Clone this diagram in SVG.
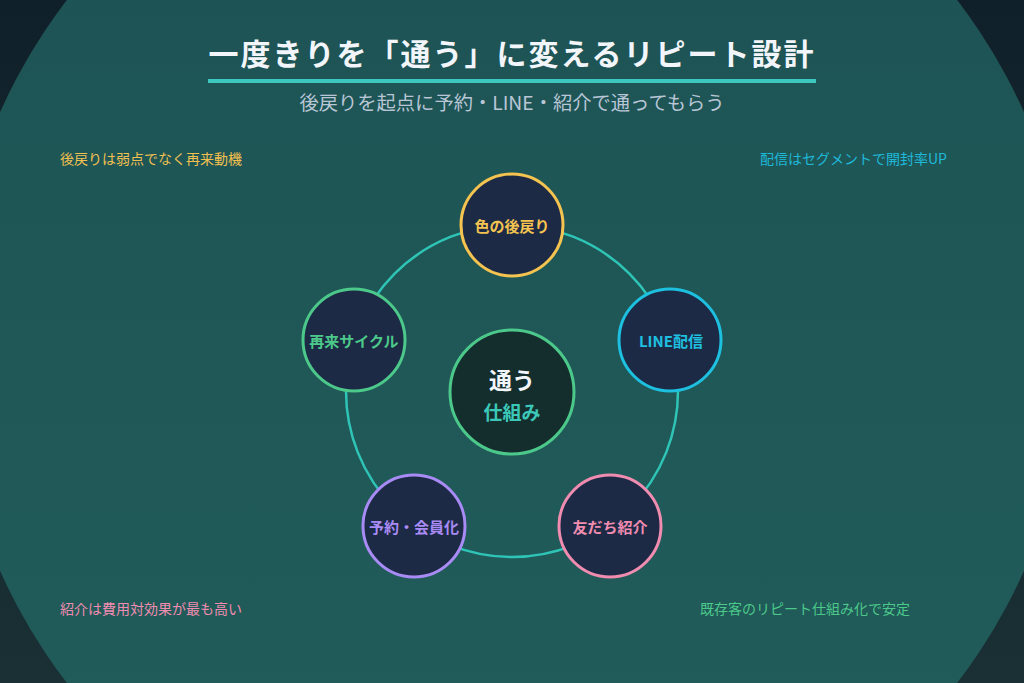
<svg xmlns="http://www.w3.org/2000/svg" width="1024" height="683" viewBox="0 0 1024 683">
<defs>
<linearGradient id="bg" x1="0" y1="0" x2="0" y2="1">
<stop offset="0" stop-color="#10202a"/>
<stop offset="1" stop-color="#1a3034"/>
</linearGradient>
<linearGradient id="disc" x1="0" y1="0" x2="0" y2="1">
<stop offset="0" stop-color="#1d5153"/>
<stop offset="1" stop-color="#215e5b"/>
</linearGradient>
<style>
text{font-family:"Noto Sans CJK JP","Noto Sans",sans-serif;text-anchor:middle;dominant-baseline:central}
.node{fill:#1c2a45;stroke-width:3}
.lbl{font-size:15px;font-weight:700}
.note{font-size:14px;text-anchor:start}
</style>
</defs>
<rect width="1024" height="683" fill="url(#bg)"/>
<circle cx="512" cy="341.5" r="561" fill="url(#disc)"/>
<g id="title">
<text x="512" y="52" font-size="30" font-weight="700" fill="#f2f5fa" letter-spacing="2">一度きりを「通う」に変えるリピート設計</text>
<rect x="208" y="79" width="608" height="4" fill="#3cc8bf"/>
<text x="512" y="102" font-size="19.3" fill="#b9c6d6">後戻りを起点に予約・LINE・紹介で通ってもらう</text>
</g>
<g id="connectors">
<circle cx="512" cy="391" r="166" fill="none" stroke="#2ec4b6" stroke-width="2.5"/>
</g>
<g id="node-top">
<circle class="node" cx="512" cy="225" r="51" stroke="#f5c350"/>
<text class="lbl" x="512" y="225" fill="#f5c350">色の後戻り</text>
</g>
<g id="node-line">
<circle class="node" cx="670" cy="340" r="51" stroke="#1ec0e0"/>
<text class="lbl" x="671" y="340" fill="#1ec0e0" font-size="16">LINE配信</text>
</g>
<g id="node-friend">
<circle class="node" cx="610" cy="526" r="51" stroke="#f08cb0"/>
<text class="lbl" x="610" y="526" fill="#f08cb0">友だち紹介</text>
</g>
<g id="node-reserve">
<circle class="node" cx="414" cy="526" r="51" stroke="#a98bf5"/>
<text class="lbl" x="414" y="526" fill="#a98bf5">予約・会員化</text>
</g>
<g id="node-cycle">
<circle class="node" cx="354" cy="340" r="51" stroke="#4cc98a"/>
<text class="lbl" x="354" y="340" fill="#4cc98a">再来サイクル</text>
</g>
<g id="node-center">
<circle cx="512" cy="392" r="62" fill="#142e2e" stroke="#4cc98a" stroke-width="3"/>
<text x="512" y="379" font-size="23" font-weight="700" fill="#f2f5fa">通う</text>
<text x="512" y="411" font-size="19" font-weight="700" fill="#3cc8b8">仕組み</text>
</g>
<g id="notes">
<text class="note" x="60" y="158" fill="#f0c050">後戻りは弱点でなく再来動機</text>
<text class="note" x="760" y="158" fill="#1eb8d8">配信はセグメントで開封率UP</text>
<text class="note" x="60" y="608" fill="#f08cb0">紹介は費用対効果が最も高い</text>
<text class="note" x="700" y="608" fill="#4cc98a">既存客のリピート仕組み化で安定</text>
</g>
</svg>
